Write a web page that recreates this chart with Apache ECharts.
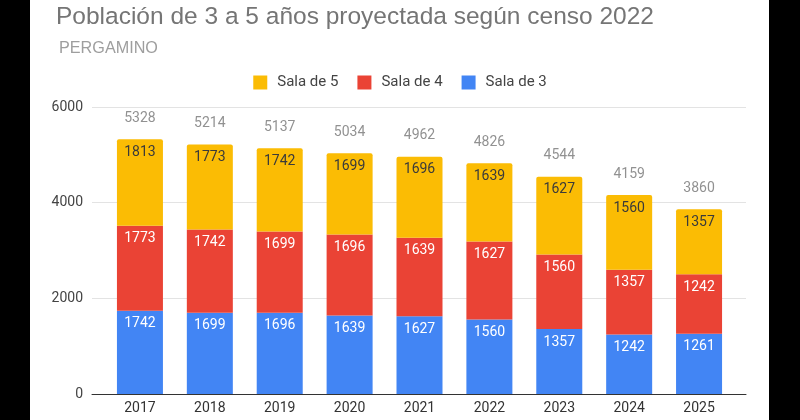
<!DOCTYPE html>
<html>
<head>
<meta charset="utf-8">
<script src="https://cdn.jsdelivr.net/npm/echarts@6/dist/echarts.min.js"></script>
<style>
  html, body { margin: 0; padding: 0; background: #000; }
  #bg { position: absolute; left: 30px; top: 0; width: 739px; height: 420px; background: #fff; }
  #chart { position: absolute; left: 0; top: 0; width: 800px; height: 420px; }
</style>
</head>
<body>
<div id="bg"></div>
<div id="chart"></div>
<script>
const years = ['2017', '2018', '2019', '2020', '2021', '2022', '2023', '2024', '2025'];
const sala3 = [1742, 1699, 1696, 1639, 1627, 1560, 1357, 1242, 1261];
const sala4 = [1773, 1742, 1699, 1696, 1639, 1627, 1560, 1357, 1242];
const sala5 = [1813, 1773, 1742, 1699, 1696, 1639, 1627, 1560, 1357];
const totals = [5328, 5214, 5137, 5034, 4962, 4826, 4544, 4159, 3860];
const yTicks = [0, 2000, 4000, 6000];

const chart = echarts.init(document.getElementById('chart'), null, { renderer: 'canvas' });
const FONT = 'Roboto';
const TITLE_FONT = '"Liberation Sans", Arial, sans-serif';

function segLabel(color) {
  return {
    show: true,
    position: 'insideTop',
    distance: 6,
    color: color,
    fontSize: 14,
    fontFamily: FONT
  };
}

chart.setOption({
  backgroundColor: 'transparent',
  animation: false,
  textStyle: { fontFamily: FONT },
  title: [
    {
      text: 'Población de 3 a 5 años proyectada según censo 2022',
      left: 51, top: 0,
      textStyle: { fontSize: 24.5, fontWeight: 'normal', color: '#757575', fontFamily: TITLE_FONT }
    },
    {
      text: 'PERGAMINO',
      left: 54, top: 36,
      textStyle: { fontSize: 16.2, fontWeight: 'normal', color: '#9e9e9e', fontFamily: TITLE_FONT }
    }
  ],
  legend: {
    data: ['Sala de 5', 'Sala de 4', 'Sala de 3'],
    left: 'center',
    top: 70,
    icon: 'rect',
    itemWidth: 14,
    itemHeight: 14,
    itemGap: 19,
    textStyle: { fontSize: 15, color: '#444', fontFamily: FONT, padding: [0, 0, 0, 5] }
  },
  grid: [
    { left: 92, right: 54, top: 107, bottom: 26 },
    { left: 105, right: 66, top: 107, bottom: 26 }
  ],
  xAxis: [
    {
      gridIndex: 0, type: 'value', min: 0, max: 1,
      axisLine: { show: true, lineStyle: { color: '#333', width: 1 } },
      axisTick: { show: false }, axisLabel: { show: false }, splitLine: { show: false }
    },
    {
      gridIndex: 1, type: 'category', data: years,
      axisLine: { show: false }, axisTick: { show: false },
      axisLabel: { color: '#333', fontSize: 14, margin: 7, fontFamily: FONT }
    }
  ],
  yAxis: [
    {
      gridIndex: 0, type: 'value', min: yTicks[0], max: yTicks[yTicks.length - 1], interval: 2000,
      axisLine: { show: false }, axisTick: { show: false },
      axisLabel: { color: '#444', fontSize: 14, margin: 9, fontFamily: FONT, formatter: function (v) { return String(v); } },
      splitLine: { lineStyle: { color: '#e3e3e3', width: 1 } }
    },
    {
      gridIndex: 1, type: 'value', min: yTicks[0], max: yTicks[yTicks.length - 1], interval: 2000,
      show: false, splitLine: { show: false }
    }
  ],
  series: [
    {
      name: 'Sala de 3', type: 'bar', stack: 'total', xAxisIndex: 1, yAxisIndex: 1,
      data: sala3, barWidth: 46, itemStyle: { color: '#4285f4' },
      label: segLabel('#ffffff')
    },
    {
      name: 'Sala de 4', type: 'bar', stack: 'total', xAxisIndex: 1, yAxisIndex: 1,
      data: sala4, barWidth: 46, itemStyle: { color: '#ea4335' },
      label: segLabel('#ffffff')
    },
    {
      name: 'Sala de 5', type: 'bar', stack: 'total', xAxisIndex: 1, yAxisIndex: 1,
      data: sala5, barWidth: 46, itemStyle: { color: '#fbbc04', borderRadius: [2, 2, 0, 0] },
      label: segLabel('#3a3a3a')
    },
    {
      name: 'Total', type: 'scatter', xAxisIndex: 1, yAxisIndex: 1,
      data: totals, symbolSize: 0, silent: true,
      label: { show: true, position: 'top', distance: 14, color: '#757575', fontSize: 14, fontFamily: FONT }
    }
  ]
});
</script>
</body>
</html>
